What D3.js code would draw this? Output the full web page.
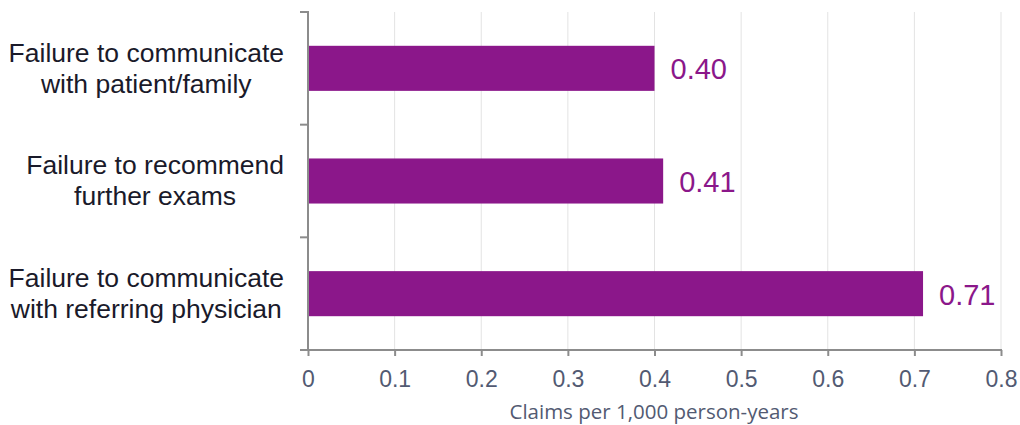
<!DOCTYPE html>
<html>
<head>
<meta charset="utf-8">
<script src="https://cdn.jsdelivr.net/npm/d3@7"></script>
<style>
  body { margin: 0; background: #fff; }
  svg { display: block; }
</style>
</head>
<body>
<svg id="chart" width="1020" height="425"></svg>
<script>
const categories = [
  ["Failure to communicate", "with patient/family"],
  ["Failure to recommend", "further exams"],
  ["Failure to communicate", "with referring physician"]
];
const values = [0.40, 0.41, 0.71];
const valueLabels = ["0.40", "0.41", "0.71"];
const xTicks = [0, 0.1, 0.2, 0.3, 0.4, 0.5, 0.6, 0.7, 0.8];
const xTickLabels = ["0", "0.1", "0.2", "0.3", "0.4", "0.5", "0.6", "0.7", "0.8"];
const xTitle = "Claims per 1,000 person-years";

(function () {
const svg = d3.select("#chart");
const pLeft = 308, pRight = 1001, pTop = 12, pBottom = 350;
const purple = "#8B178A";
const axisColor = "#8c8c8c";
const tickText = "#525a72";

const x = d3.scaleLinear().domain([0, 0.8]).range([pLeft, pRight]);
const idx = categories.map((d, i) => i);
const y = d3.scaleBand().domain(idx).range([pTop, pBottom]).paddingInner(0.6).paddingOuter(0.3);
const yb = d3.scaleBand().domain(idx).range([pTop, pBottom]);

// gridlines
svg.append("g").selectAll("line").data(xTicks.slice(1)).join("line")
  .attr("x1", d => x(d)).attr("x2", d => x(d))
  .attr("y1", pTop).attr("y2", pBottom)
  .attr("stroke", "#e3e3e3").attr("stroke-width", 1);

// bars
svg.append("g").selectAll("rect").data(values).join("rect")
  .attr("x", x(0)).attr("y", (d, i) => y(i))
  .attr("width", d => x(d) - x(0)).attr("height", y.bandwidth())
  .attr("fill", purple);

// value labels
svg.append("g").selectAll("text").data(values).join("text")
  .attr("x", d => x(d) + 16).attr("y", (d, i) => y(i) + y.bandwidth() / 2 + 11)
  .attr("font-family", "Liberation Sans, Arial, sans-serif")
  .attr("font-size", 29).attr("fill", purple)
  .text((d, i) => valueLabels[i]);

// x axis
const xAxis = d3.axisBottom(x).tickValues(xTicks).tickSize(6).tickSizeOuter(0)
  .tickFormat((d, i) => xTickLabels[i]);
const gx = svg.append("g").attr("transform", `translate(0,${pBottom})`).call(xAxis);
gx.select(".domain").remove();
gx.append("line").attr("x1", 300).attr("x2", pRight + 1).attr("y1", 0).attr("y2", 0)
  .attr("stroke", axisColor).attr("stroke-width", 2);
gx.selectAll(".tick line").attr("stroke", axisColor).attr("stroke-width", 2);
gx.selectAll(".tick text").attr("font-family", "Liberation Sans, Arial, sans-serif")
  .attr("font-size", 23).attr("fill", tickText).attr("dy", null).attr("y", 37);

// y axis
const gy = svg.append("g");
gy.append("line").attr("x1", pLeft).attr("x2", pLeft).attr("y1", pTop - 1).attr("y2", pBottom)
  .attr("stroke", axisColor).attr("stroke-width", 2);
const bounds = idx.map(i => yb(i)).concat([pBottom]);
gy.selectAll("line.t").data(bounds).join("line").attr("class", "t")
  .attr("x1", 300).attr("x2", pLeft).attr("y1", d => d).attr("y2", d => d)
  .attr("stroke", axisColor).attr("stroke-width", 2);

// category labels
const labelRight = 284;
categories.forEach((lines, i) => {
  const g = svg.append("g");
  const cy = y(i) + y.bandwidth() / 2;
  const texts = lines.map((l, j) => g.append("text")
    .attr("font-family", "Liberation Sans, Arial, sans-serif")
    .attr("font-size", 26.5).attr("fill", "#1a1a2a")
    .attr("text-anchor", "middle")
    .attr("y", cy - 6.8 + j * 31)
    .text(l));
  const maxW = d3.max(texts, t => t.node().getComputedTextLength());
  texts.forEach(t => t.attr("x", labelRight - maxW / 2));
});

// axis title
svg.append("text").attr("x", 654).attr("y", 419)
  .attr("text-anchor", "middle")
  .attr("font-family", "Open Sans, sans-serif").attr("font-size", 20.5)
  .attr("fill", tickText).text(xTitle);
})();
</script>
</body>
</html>
